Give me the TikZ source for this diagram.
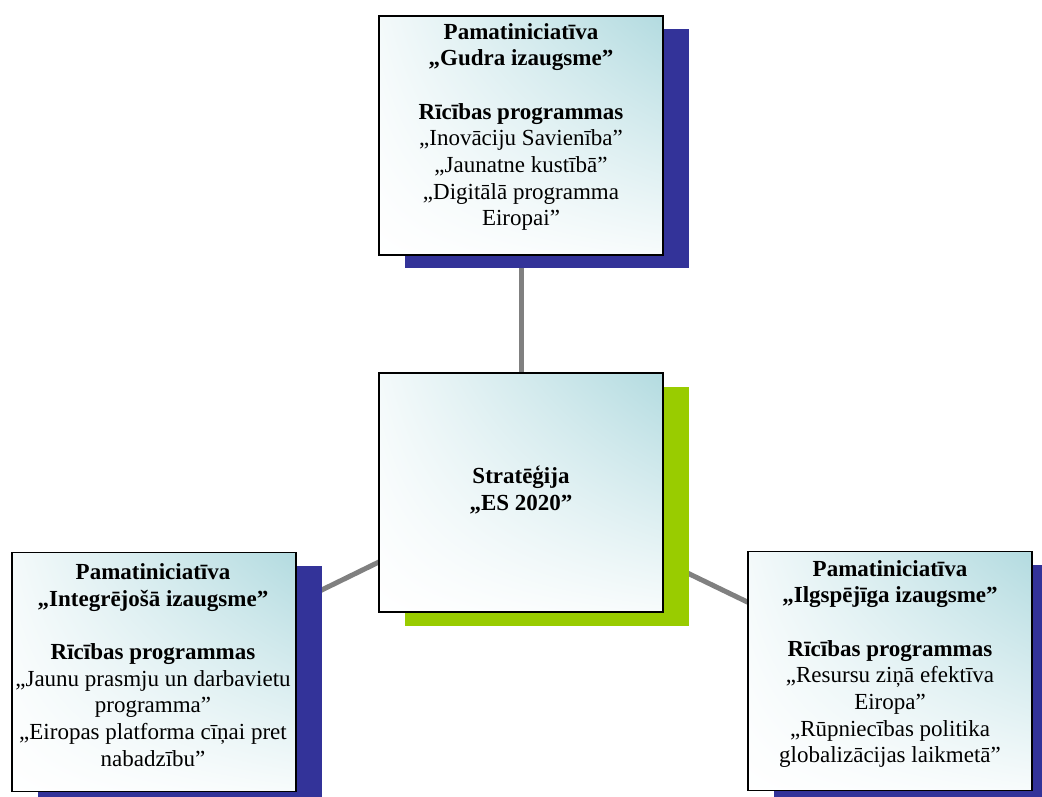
\documentclass[tikz,border=0pt]{standalone}
\usepackage{fontspec}
\setmainfont{Liberation Serif}
\usetikzlibrary{shadows,backgrounds,shadings}
\definecolor{tealc}{HTML}{B3DBE0}
\definecolor{shblue}{HTML}{333399}
\definecolor{shgreen}{HTML}{99CC00}
\definecolor{linegray}{HTML}{808080}
\tikzset{
  box/.style={draw=black, line width=1.6pt, minimum width=284pt, minimum height=239pt, inner sep=0pt,
    upper right=tealc, upper left=tealc!15, lower right=tealc!10, lower left=white},
  blueshadow/.style={general shadow={fill=shblue, shadow xshift=26pt, shadow yshift=-13pt}},
  greenshadow/.style={general shadow={fill=shgreen, shadow xshift=26pt, shadow yshift=-14pt}},
  txt/.style={align=center, inner sep=0pt, font=\fontsize{23}{26.7}\selectfont},
  conn/.style={draw=linegray, line width=5pt}
}
\begin{document}
\begin{tikzpicture}[x=1pt,y=-1pt]
\useasboundingbox (0,0) rectangle (1042,796);
\clip (0,0) rectangle (1042,796);
\node[box, blueshadow] (top) at (521,135.5) {};
\node[box, greenshadow] (mid) at (521,492.5) {};
\node[box, blueshadow] (left) at (154,672) {};
\node[box, blueshadow] (right) at (890,671) {};
\begin{pgfonlayer}{background}
\draw[conn] (mid.center) -- (top.center);
\draw[conn] (mid.center) -- (left.center);
\draw[conn] (mid.center) -- (right.center);
\end{pgfonlayer}
\node[txt] (topT) at (521,127) {\textbf{Pamatiniciatīva}\\\textbf{„Gudra izaugsme”}\\[26.7pt]\textbf{Rīcības programmas}\\„Inovāciju Savienība”\\„Jaunatne kustībā”\\„Digitālā programma\\Eiropai”};
\node[txt] (midT) at (521,490) {\textbf{Stratēģija}\\\textbf{„ES 2020”}};
\node[txt] (leftT) at (153,665) {\textbf{Pamatiniciatīva}\\\textbf{„Integrējošā izaugsme”}\\[26.7pt]\textbf{Rīcības programmas}\\„Jaunu prasmju un darbavietu\\programma”\\„Eiropas platforma cīņai pret\\nabadzību”};
\node[txt] (rightT) at (890,664) {\textbf{Pamatiniciatīva}\\\textbf{„Ilgspējīga izaugsme”}\\[26.7pt]\textbf{Rīcības programmas}\\„Resursu ziņā efektīva\\Eiropa”\\„Rūpniecības politika\\globalizācijas laikmetā”};
\end{tikzpicture}
\end{document}
